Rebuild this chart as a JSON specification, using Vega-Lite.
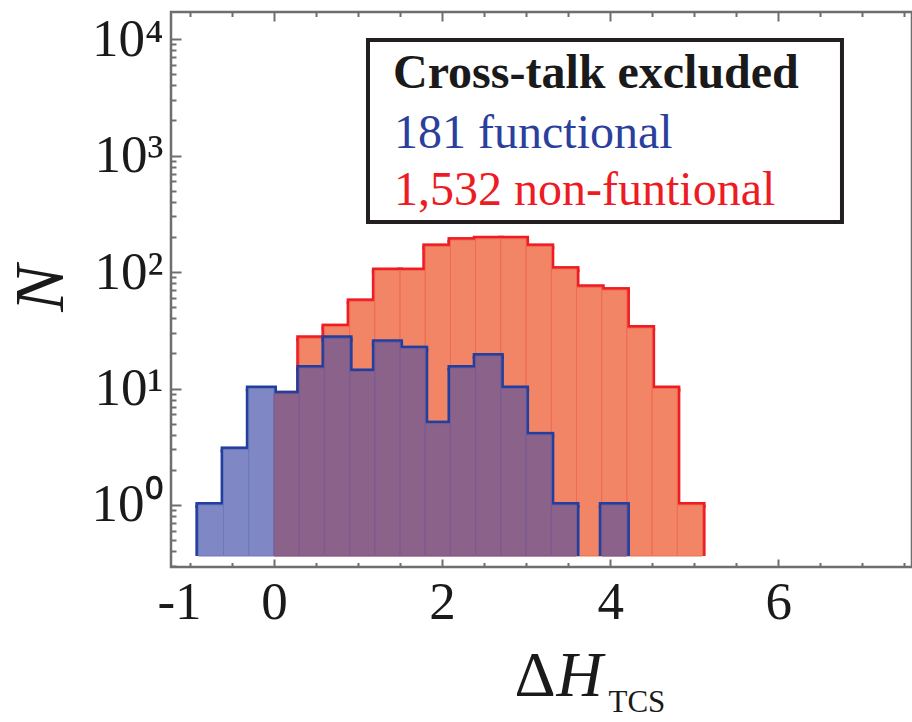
{
  "$schema": "https://vega.github.io/schema/vega-lite/v6.json",
  "width": 741,
  "height": 555,
  "autosize": "none",
  "padding": {"left": 171, "top": 12, "right": 0, "bottom": 155},
  "background": "white",
  "datasets": {
    "bins": [
      {"s": "1,532 non-funtional", "x0": 0.0, "x1": 0.3, "n": 9},
      {"s": "1,532 non-funtional", "x0": 0.3, "x1": 0.6, "n": 27},
      {"s": "1,532 non-funtional", "x0": 0.6, "x1": 0.9, "n": 34},
      {"s": "1,532 non-funtional", "x0": 0.9, "x1": 1.2, "n": 56},
      {"s": "1,532 non-funtional", "x0": 1.2, "x1": 1.5, "n": 103},
      {"s": "1,532 non-funtional", "x0": 1.5, "x1": 1.8, "n": 103},
      {"s": "1,532 non-funtional", "x0": 1.8, "x1": 2.1, "n": 166},
      {"s": "1,532 non-funtional", "x0": 2.1, "x1": 2.4, "n": 188},
      {"s": "1,532 non-funtional", "x0": 2.4, "x1": 2.7, "n": 193},
      {"s": "1,532 non-funtional", "x0": 2.7, "x1": 3.0, "n": 193},
      {"s": "1,532 non-funtional", "x0": 3.0, "x1": 3.3, "n": 166},
      {"s": "1,532 non-funtional", "x0": 3.3, "x1": 3.6, "n": 106},
      {"s": "1,532 non-funtional", "x0": 3.6, "x1": 3.9, "n": 74},
      {"s": "1,532 non-funtional", "x0": 3.9, "x1": 4.2, "n": 70},
      {"s": "1,532 non-funtional", "x0": 4.2, "x1": 4.5, "n": 33},
      {"s": "1,532 non-funtional", "x0": 4.5, "x1": 4.8, "n": 10},
      {"s": "1,532 non-funtional", "x0": 4.8, "x1": 5.1, "n": 1},
      {"s": "181 functional", "x0": -0.9, "x1": -0.6, "n": 1},
      {"s": "181 functional", "x0": -0.6, "x1": -0.3, "n": 3},
      {"s": "181 functional", "x0": -0.3, "x1": 0.0, "n": 10},
      {"s": "181 functional", "x0": 0.0, "x1": 0.3, "n": 9},
      {"s": "181 functional", "x0": 0.3, "x1": 0.6, "n": 15},
      {"s": "181 functional", "x0": 0.6, "x1": 0.9, "n": 27},
      {"s": "181 functional", "x0": 0.9, "x1": 1.2, "n": 14},
      {"s": "181 functional", "x0": 1.2, "x1": 1.5, "n": 25},
      {"s": "181 functional", "x0": 1.5, "x1": 1.8, "n": 22},
      {"s": "181 functional", "x0": 1.8, "x1": 2.1, "n": 5},
      {"s": "181 functional", "x0": 2.1, "x1": 2.4, "n": 15},
      {"s": "181 functional", "x0": 2.4, "x1": 2.7, "n": 19},
      {"s": "181 functional", "x0": 2.7, "x1": 3.0, "n": 10},
      {"s": "181 functional", "x0": 3.0, "x1": 3.3, "n": 4},
      {"s": "181 functional", "x0": 3.3, "x1": 3.6, "n": 1},
      {"s": "181 functional", "x0": 3.9, "x1": 4.2, "n": 1}
    ]
  },
  "data": {"name": "bins"},
  "resolve": {"axis": {"x": "independent", "y": "independent"}},
  "layer": [
    {
      "transform": [{"filter": "datum.s == '1,532 non-funtional'"}],
      "mark": {"type": "rule", "strokeWidth": 6, "strokeCap": "butt"},
      "encoding": {
        "x": {"field": "x0", "type": "quantitative",
              "scale": {"domain": [-1.2256, 7.592], "nice": false, "zero": false},
              "axis": {"orient": "bottom", "values": [-1, 0, 2, 4, 6], "ticks": false, "labelPadding": 9,
                       "labelOffset": {"condition": {"test": "datum.value == -1", "value": -11}, "value": 0},
                       "labelExpr": "replace(datum.label, '\u2212', '-')",
                       "title": "Δ", "titleFontSize": 64, "titleX": 343, "titleY": 128,
                       "titleAlign": "left", "titleBaseline": "alphabetic", "titleAnchor": null}},
        "y": {"field": "n", "type": "quantitative",
              "scale": {"type": "log", "domain": [0.2936, 17060], "nice": false},
              "axis": {"orient": "left", "values": [1, 10, 100, 1000, 10000], "ticks": false, "labelPadding": 8,
                       "labelBaseline": "middle",
                       "labelExpr": "datum.value == 1 ? '10⁰' : datum.value == 10 ? '10¹' : datum.value == 100 ? '10²' : datum.value == 1000 ? '10³' : '10⁴'",
                       "title": "N", "titleFontSize": 70, "titleFontStyle": "italic", "titleAngle": 270,
                       "titleX": -109, "titleY": 276, "titleAlign": "center", "titleBaseline": "alphabetic"}},
        "y2": {"datum": 0.365},
        "stroke": {"field": "s", "type": "nominal",
                   "scale": {"domain": ["181 functional", "1,532 non-funtional"], "range": ["#213F9F", "#EE1D25"]},
                   "legend": {"orient": "none", "legendX": 222, "legendY": 38, "title": "Cross-talk excluded",
                              "titleFont": "Liberation Serif", "titleFontSize": 48, "titleFontWeight": "bold", "titleColor": "#1a1a1a",
                              "titleBaseline": "top", "titlePadding": 12,
                              "labelFont": "Liberation Serif", "labelFontSize": 48, "labelOffset": -47,
                              "symbolSize": 0, "symbolOpacity": 0, "symbolStrokeWidth": 0, "rowPadding": 9,
                              "padding": 0,
                              "labelLimit": 1000, "titleLimit": 1000,
                              "encode": {
                                "labels": {"update": {
                                  "fill": {"signal": "datum.value == '181 functional' ? '#2B3F9C' : '#ED1C24'"}}}
                              }}}
      }
    },
    {
      "transform": [{"filter": "datum.s == '1,532 non-funtional'"}],
      "mark": {"type": "rule", "strokeWidth": 6, "strokeCap": "butt"},
      "encoding": {
        "x": {"field": "x1", "type": "quantitative",
              "axis": {"orient": "bottom", "values": [0, 2, 4, 6], "tickSize": -8, "labels": false,
                       "title": "H", "titleFontSize": 64, "titleFontStyle": "italic", "titleX": 385, "titleY": 128,
                       "titleAlign": "left", "titleBaseline": "alphabetic", "titleAnchor": null}},
        "y": {"field": "n", "type": "quantitative",
              "axis": {"orient": "left", "values": [1, 10, 100, 1000, 10000], "tickSize": -10, "labels": false, "title": null}},
        "y2": {"datum": 0.365},
        "stroke": {"field": "s", "type": "nominal"}
      }
    },
    {
      "transform": [{"filter": "datum.s == '1,532 non-funtional'"}],
      "mark": {"type": "rule", "strokeWidth": 6, "strokeCap": "square"},
      "encoding": {
        "x": {"field": "x0", "type": "quantitative",
              "axis": {"orient": "bottom", "values": [-1, -0.5, 0.5, 1, 1.5, 2.5, 3, 3.5, 4.5, 5, 5.5, 6.5, 7, 7.5],
                       "tickSize": -4.5, "labels": false, "title": null}},
        "x2": {"field": "x1"},
        "y": {"field": "n", "type": "quantitative",
              "axis": {"orient": "left", "values": [0.3, 0.4, 0.5, 0.6, 0.7, 0.8, 0.9, 2, 3, 4, 5, 6, 7, 8, 9, 20, 30, 40, 50, 60, 70, 80, 90, 200, 300, 400, 500, 600, 700, 800, 900, 2000, 3000, 4000, 5000, 6000, 7000, 8000, 9000],
                       "tickSize": -5, "labels": false, "title": null}},
        "stroke": {"field": "s", "type": "nominal"}
      }
    },
    {
      "transform": [{"filter": "datum.s == '1,532 non-funtional'"}],
      "mark": {"type": "bar", "fill": "#F38567", "stroke": "#EF6B52", "strokeWidth": 1},
      "encoding": {
        "x": {"field": "x0", "type": "quantitative",
              "axis": {"orient": "top", "values": [0, 2, 4, 6], "tickSize": -9, "labels": false, "title": null}},
        "x2": {"field": "x1"},
        "y": {"field": "n", "type": "quantitative", "axis": null},
        "y2": {"datum": 0.365}
      }
    },
    {
      "transform": [{"filter": "datum.s == '181 functional'"}],
      "mark": {"type": "rule", "strokeWidth": 6, "strokeCap": "butt"},
      "encoding": {
        "x": {"field": "x0", "type": "quantitative",
              "axis": {"orient": "top", "values": [-1, -0.5, 0.5, 1, 1.5, 2.5, 3, 3.5, 4.5, 5, 5.5, 6.5, 7, 7.5],
                       "tickSize": -4.5, "labels": false,
                       "title": "TCS", "titleFontSize": 31, "titleX": 437, "titleY": 699,
                       "titleAlign": "left", "titleBaseline": "alphabetic", "titleAnchor": null}},
        "y": {"field": "n", "type": "quantitative", "axis": null},
        "y2": {"datum": 0.365},
        "stroke": {"field": "s", "type": "nominal"}
      }
    },
    {
      "transform": [{"filter": "datum.s == '181 functional'"}],
      "mark": {"type": "rule", "strokeWidth": 6, "strokeCap": "butt"},
      "encoding": {
        "x": {"field": "x1", "type": "quantitative", "axis": null},
        "y": {"field": "n", "type": "quantitative", "axis": null},
        "y2": {"datum": 0.365},
        "stroke": {"field": "s", "type": "nominal"}
      }
    },
    {
      "transform": [{"filter": "datum.s == '181 functional'"}],
      "mark": {"type": "rule", "strokeWidth": 6, "strokeCap": "square"},
      "encoding": {
        "x": {"field": "x0", "type": "quantitative", "axis": null},
        "x2": {"field": "x1"},
        "y": {"field": "n", "type": "quantitative", "axis": null},
        "stroke": {"field": "s", "type": "nominal"}
      }
    },
    {
      "transform": [{"filter": "datum.s == '181 functional'"}],
      "mark": {"type": "bar", "strokeWidth": 1},
      "encoding": {
        "x": {"field": "x0", "type": "quantitative", "axis": null},
        "x2": {"field": "x1"},
        "y": {"field": "n", "type": "quantitative", "axis": null},
        "y2": {"datum": 0.365},
        "fill": {"condition": {"test": "datum.x0 < 0", "value": "#7F88C4"}, "value": "#8B628A"},
        "stroke": {"condition": {"test": "datum.x0 < 0", "value": "#6D78BA"}, "value": "#7A5A93"}
      }
    },
    {
      "data": {"values": [{"box": "legend"}]},
      "mark": {"type": "rect", "fill": "white", "stroke": "#231F20", "strokeWidth": 4},
      "encoding": {
        "x": {"datum": 1.1185, "type": "quantitative", "axis": null},
        "x2": {"datum": 6.7587},
        "y": {"datum": 9809, "type": "quantitative", "axis": null},
        "y2": {"datum": 268.7}
      }
    }
  ],
  "config": {
    "view": {"stroke": "#6e6e6e", "strokeWidth": 2.5},
    "axis": {"domain": false, "grid": false, "tickColor": "#6e6e6e", "tickWidth": 2,
             "labelFont": "Liberation Serif", "labelFontSize": 53, "labelColor": "#1a1a1a",
             "titleFont": "Liberation Serif", "titleColor": "#1a1a1a", "titleFontWeight": "normal"},
    "legend": {"labelColor": "#1a1a1a"}
  }
}
